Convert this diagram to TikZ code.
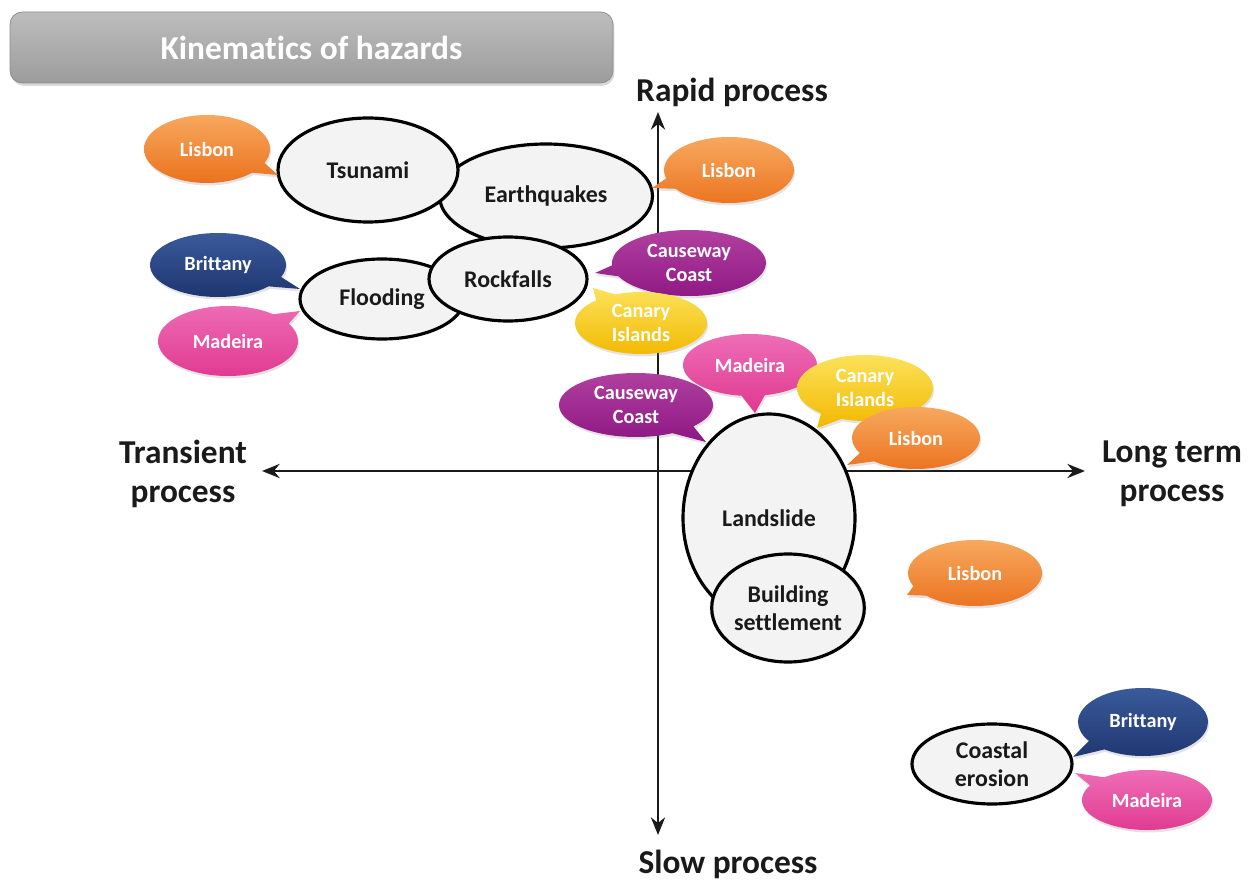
\documentclass[tikz,border=0pt]{standalone}
\usepackage{fontspec}
\setmainfont[Ligatures=NoCommon]{Carlito}
\usetikzlibrary{shapes.geometric,shapes.callouts,arrows.meta,shadows}

\definecolor{ellfill}{HTML}{F3F3F3}
\definecolor{inktext}{HTML}{1A1A1A}
\definecolor{orgtop}{HTML}{F7A85E}
\definecolor{orgbot}{HTML}{EB721E}
\definecolor{navtop}{HTML}{3A5A9A}
\definecolor{navbot}{HTML}{1E3670}
\definecolor{pnktop}{HTML}{EE6DB6}
\definecolor{pnkbot}{HTML}{E0388F}
\definecolor{purtop}{HTML}{B0409F}
\definecolor{purbot}{HTML}{8E1784}
\definecolor{yeltop}{HTML}{FBE25A}
\definecolor{yelbot}{HTML}{F2B800}
\definecolor{ttltop}{HTML}{BDBDBD}
\definecolor{ttlbot}{HTML}{9C9C9C}

\begin{document}
\begin{tikzpicture}[x=0.02cm,y=-0.02cm,
  hazard/.style n args={2}{ellipse, draw=black, line width=1.8pt, fill=ellfill,
    minimum width=#1*0.02cm, minimum height=#2*0.02cm, inner sep=0pt,
    align=center, text=inktext, font=\fontsize{13.6}{16}\selectfont\bfseries},
  bubble/.style n args={2}{ellipse callout, callout pointer arc=20,
    minimum width=#1*0.02cm, minimum height=#2*0.02cm, inner sep=0pt,
    align=center, text=white, font=\fontsize{11.5}{13.6}\selectfont\bfseries,
    drop shadow={opacity=0.22, shadow xshift=0.6pt, shadow yshift=-1.4pt}},
  lisbon/.style={top color=orgtop, bottom color=orgbot},
  brittany/.style={top color=navtop, bottom color=navbot},
  madeira/.style={top color=pnktop, bottom color=pnkbot},
  causeway/.style={top color=purtop, bottom color=purbot},
  canary/.style={top color=yeltop, bottom color=yelbot},
  axisline/.style={line width=1.6pt, draw=inktext,
    {Stealth[length=10pt,width=8pt]}-{Stealth[length=10pt,width=8pt]}},
  axlabel/.style={align=center, text=inktext, font=\fontsize{19}{22}\selectfont\bfseries},
  titlebox/.style={rounded corners=7pt, top color=ttltop, bottom color=ttlbot,
    draw=ttlbot!90!black, line width=0.4pt, text=white,
    font=\fontsize{19}{22}\selectfont\bfseries,
    drop shadow={opacity=0.3, shadow xshift=0.8pt, shadow yshift=-1.6pt}},
]
\useasboundingbox (0,0) rectangle (1255,885);

% title banner
\node[titlebox, minimum width=603*0.02cm, minimum height=71*0.02cm] (title) at (311.5,47.5) {Kinematics of hazards};

% axes
\coordinate (ytop) at (658,112);
\coordinate (ybot) at (658,835);
\coordinate (xlft) at (262,471);
\coordinate (xrgt) at (1085,471);
\draw[axisline] (ybot) -- (ytop);
\draw[axisline] (xlft) -- (xrgt);

\node[axlabel] (rapid) at (732,92) {Rapid process};
\node[axlabel] (slow) at (728,864) {Slow process};
\node[axlabel] (trans) at (183,474) {Transient\\process};
\node[axlabel] (longt) at (1172,474) {Long term\\process};

% hazards
\node[hazard={213}{104}] (eq) at (546,196) {Earthquakes};
\node[hazard={180}{104}] (tsu) at (368,170) {Tsunami};
\node[hazard={164}{80}] (flood) at (382,299) {Flooding};
\node[hazard={158}{84}] (rock) at (508,279) {Rockfalls};
\node[hazard={172}{208}] (land) at (769,518) {Landslide};
\node[hazard={150}{108}] (build) at (788,608) {Building\\settlement};
\node[hazard={160}{80}] (coast) at (992,764) {Coastal\\erosion};

% pointer tips of the site callouts
\coordinate (tL1) at (278,175);
\coordinate (tL2) at (652,188);
\coordinate (tB1) at (300,289);
\coordinate (tM1) at (300,311);
\coordinate (tC1) at (595,273);
\coordinate (tY1) at (593,288);
\coordinate (tM2) at (755,413);
\coordinate (tC2) at (706,442);
\coordinate (tY2) at (817,428);
\coordinate (tL3) at (847,465);
\coordinate (tL4) at (907,595);
\coordinate (tB2) at (1073,757);
\coordinate (tM3) at (1075,773);

% site callouts
\node[bubble={126}{68}, lisbon, callout absolute pointer={(tL1)}] (L1) at (207,149) {Lisbon};
\node[bubble={130}{66}, lisbon, callout absolute pointer={(tL2)}] (L2) at (729,170) {Lisbon};
\node[bubble={136}{64}, brittany, callout absolute pointer={(tB1)}] (B1) at (218,265) {Brittany};
\node[bubble={140}{70}, madeira, callout absolute pointer={(tM1)}] (M1) at (228,341) {Madeira};
\node[bubble={154}{66}, causeway, callout absolute pointer={(tC1)}] (C1) at (689,263) {Causeway\\Coast};
\node[bubble={132}{62}, canary, callout absolute pointer={(tY1)}] (Y1) at (641,323) {Canary\\Islands};
\node[bubble={134}{62}, madeira, callout absolute pointer={(tM2)}] (M2) at (750,365) {Madeira};
\node[bubble={154}{64}, causeway, callout absolute pointer={(tC2)}] (C2) at (636,405) {Causeway\\Coast};
\node[bubble={136}{66}, canary, callout absolute pointer={(tY2)}] (Y2) at (865,388) {Canary\\Islands};
\node[bubble={128}{62}, lisbon, callout absolute pointer={(tL3)}] (L3) at (916,438) {Lisbon};
\node[bubble={134}{66}, lisbon, callout absolute pointer={(tL4)}] (L4) at (975,573) {Lisbon};
\node[bubble={130}{68}, brittany, callout absolute pointer={(tB2)}] (B2) at (1143,722) {Brittany};
\node[bubble={130}{60}, madeira, callout absolute pointer={(tM3)}] (M3) at (1147,800) {Madeira};
\end{tikzpicture}
\end{document}
